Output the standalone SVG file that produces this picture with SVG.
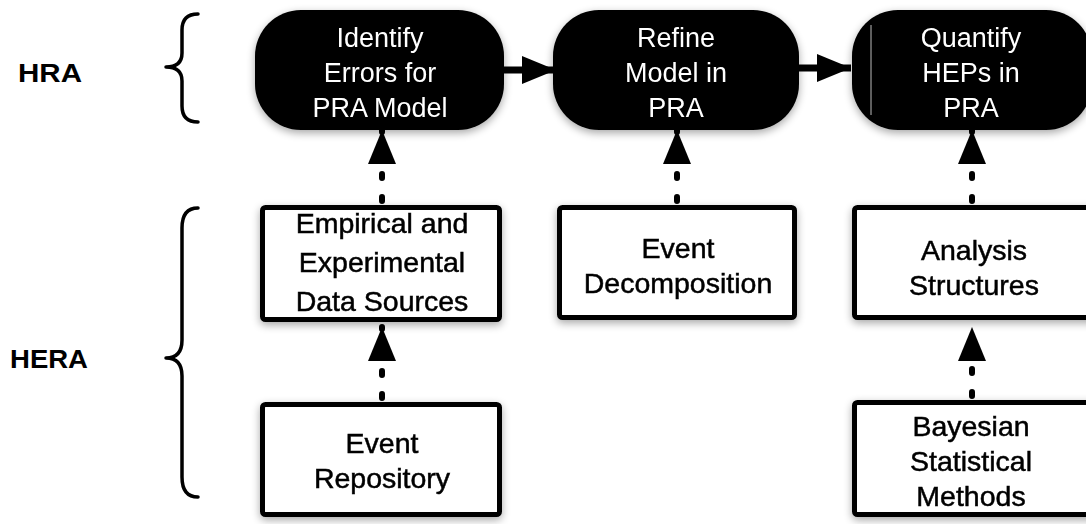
<svg xmlns="http://www.w3.org/2000/svg" width="1086" height="524" viewBox="0 0 1086 524">
<style>
  .pill { fill: #000; }
  .box { fill: #fff; stroke: #000; stroke-width: 5; }
  .wt { fill: #fff; font-family: "Liberation Sans", Arial, sans-serif; font-size: 27px; text-anchor: middle; }
  .bt { fill: #000; stroke: #000; stroke-width: 0.5; font-family: "Liberation Sans", Arial, sans-serif; font-size: 28.5px; text-anchor: middle; }
  .lbl { fill: #000; font-family: "Liberation Sans", Arial, sans-serif; font-size: 25px; font-weight: bold; }
  .brace { fill: none; stroke: #000; stroke-width: 3.5; stroke-linecap: round; stroke-linejoin: round; }
  .solid { stroke: #000; stroke-width: 7; fill: none; marker-end: url(#head); }
  .dot { stroke: #000; stroke-width: 6; fill: none; stroke-dasharray: 4 19; stroke-linecap: round; marker-end: url(#head); }
</style>
<defs>
  <marker id="head" markerUnits="userSpaceOnUse" markerWidth="34" markerHeight="28" refX="34" refY="14" orient="auto">
    <path d="M0,0 L34,14 L0,28 Z" fill="#000"/>
  </marker>
  <filter id="sh" x="-10%" y="-15%" width="120%" height="135%">
    <feGaussianBlur in="SourceAlpha" stdDeviation="4"/>
    <feOffset dx="0" dy="3" result="b"/>
    <feComponentTransfer><feFuncA type="linear" slope="0.35"/></feComponentTransfer>
    <feMerge><feMergeNode/><feMergeNode in="SourceGraphic"/></feMerge>
  </filter>
</defs>
<rect width="1086" height="524" fill="#fff"/>

<g id="label-hra">
  <text class="lbl" x="18" y="82" textLength="64" lengthAdjust="spacingAndGlyphs">HRA</text>
  <path class="brace" d="M198,14 Q182,14 182,30 L182,53 Q182,67 166,67 Q182,67 182,81 L182,106 Q182,122 198,122"/>
</g>
<g id="label-hera">
  <text class="lbl" x="10" y="368" textLength="78" lengthAdjust="spacingAndGlyphs">HERA</text>
  <path class="brace" d="M198,208 Q182,208 182,228 L182,340 Q182,358 166,358 Q182,358 182,376 L182,477 Q182,497 198,497"/>
</g>

<g id="connectors">
  <line class="solid" x1="503" y1="70" x2="556" y2="70"/>
  <line class="solid" x1="797" y1="68" x2="851" y2="68"/>
  <line class="dot" x1="382" y1="201" x2="382" y2="130"/>
  <line class="dot" x1="677" y1="201" x2="677" y2="130"/>
  <line class="dot" x1="972" y1="201" x2="972" y2="130"/>
  <line class="dot" x1="382" y1="398" x2="382" y2="327"/>
  <line class="dot" x1="972" y1="396" x2="972" y2="327"/>
</g>

<g id="identify-errors" filter="url(#sh)">
  <rect class="pill" x="255" y="10" width="249" height="120" rx="46" ry="46"/>
  <text class="wt" x="380" y="47">Identify</text>
  <text class="wt" x="380" y="82">Errors for</text>
  <text class="wt" x="380" y="117">PRA Model</text>
</g>
<g id="refine-model" filter="url(#sh)">
  <rect class="pill" x="553" y="10" width="246" height="120" rx="46" ry="46"/>
  <text class="wt" x="676" y="47">Refine</text>
  <text class="wt" x="676" y="82">Model in</text>
  <text class="wt" x="676" y="117">PRA</text>
</g>
<g id="quantify-heps" filter="url(#sh)">
  <rect class="pill" x="852" y="10" width="240" height="120" rx="46" ry="46"/>
  <line x1="871" y1="25" x2="871" y2="115" stroke="#bbb" stroke-width="1"/>
  <text class="wt" x="971" y="47">Quantify</text>
  <text class="wt" x="971" y="82">HEPs in</text>
  <text class="wt" x="971" y="117">PRA</text>
</g>

<g id="empirical-data" filter="url(#sh)">
  <rect class="box" x="262.5" y="207.5" width="237" height="112" rx="3"/>
  <text class="bt" x="382" y="233">Empirical and</text>
  <text class="bt" x="382" y="272">Experimental</text>
  <text class="bt" x="382" y="311">Data Sources</text>
</g>
<g id="event-decomposition" filter="url(#sh)">
  <rect class="box" x="559.5" y="207.5" width="235" height="110" rx="3"/>
  <text class="bt" x="678" y="258">Event</text>
  <text class="bt" x="678" y="293">Decomposition</text>
</g>
<g id="analysis-structures" filter="url(#sh)">
  <rect class="box" x="854.5" y="207.5" width="240" height="110" rx="3"/>
  <text class="bt" x="974" y="260">Analysis</text>
  <text class="bt" x="974" y="295">Structures</text>
</g>
<g id="event-repository" filter="url(#sh)">
  <rect class="box" x="262.5" y="404.5" width="237" height="110" rx="3"/>
  <text class="bt" x="382" y="453">Event</text>
  <text class="bt" x="382" y="488">Repository</text>
</g>
<g id="bayesian-methods" filter="url(#sh)">
  <rect class="box" x="854.5" y="402.5" width="240" height="112" rx="3"/>
  <text class="bt" x="971" y="436">Bayesian</text>
  <text class="bt" x="971" y="471">Statistical</text>
  <text class="bt" x="971" y="506">Methods</text>
</g>
</svg>
